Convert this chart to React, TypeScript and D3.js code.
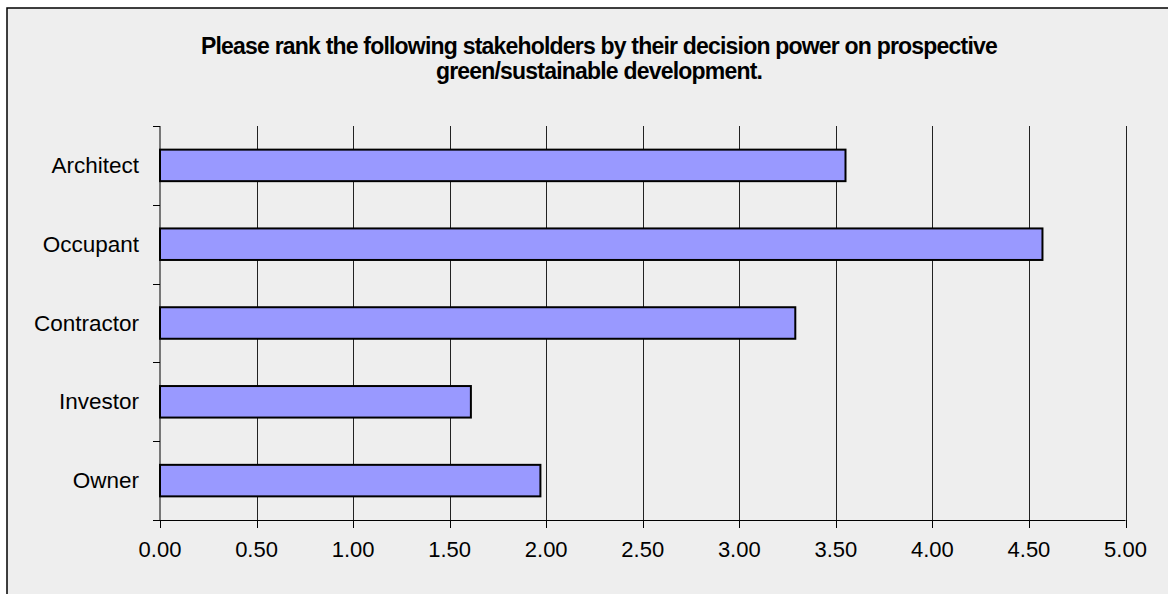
import React from "react";
import * as d3 from "d3";

const categories = ["Architect", "Occupant", "Contractor", "Investor", "Owner"];
const values = [3.55, 4.57, 3.29, 1.61, 1.97];
const xTicks = [0, 0.5, 1, 1.5, 2, 2.5, 3, 3.5, 4, 4.5, 5];
const titleLines = [
  "Please rank the following stakeholders by their decision power on prospective",
  "green/sustainable development.",
];

const W = 1168;
const H = 594;
const plot = { left: 160, right: 1125.5, top: 126, bottom: 520 };
const font = "'Liberation Sans', Arial, sans-serif";

export default function App() {
  const x = d3.scaleLinear().domain([0, 5]).range([plot.left, plot.right]);
  const y = d3
    .scaleBand<string>()
    .domain(categories)
    .range([plot.top, plot.bottom])
    .paddingInner(0.6)
    .paddingOuter(0.3);
  const step = y.step();
  const boundaries = d3.range(categories.length + 1).map((i) => plot.top + i * step);

  return (
    <svg
      width={W}
      height={H}
      style={{ position: "absolute", left: 0, top: 0, display: "block", background: "#fff" }}
    >
      <rect x={7} y={8} width={W + 10} height={H + 10} fill="#eeeeee" stroke="#000" strokeWidth={1.5} />
      {titleLines.map((t, i) => (
        <text
          key={i}
          x={599}
          y={54 + i * 25}
          textAnchor="middle"
          fontFamily={font}
          fontWeight="bold"
          fontSize={23}
          letterSpacing={-0.8}
          fill="#000"
        >
          {t}
        </text>
      ))}
      {/* vertical gridlines */}
      {xTicks.slice(1).map((v) => (
        <line
          key={"g" + v}
          x1={Math.round(x(v)) + 0.5}
          x2={Math.round(x(v)) + 0.5}
          y1={plot.top}
          y2={plot.bottom}
          stroke="#222"
          strokeWidth={1}
        />
      ))}
      {/* bars */}
      {categories.map((c, i) => (
        <rect
          key={c}
          x={x(0)}
          y={y(c)!}
          width={x(values[i]) - x(0)}
          height={y.bandwidth()}
          fill="#9999ff"
          stroke="#000"
          strokeWidth={2}
        />
      ))}
      {/* y axis */}
      <line x1={plot.left} x2={plot.left} y1={plot.top} y2={plot.bottom} stroke="#000" strokeWidth={1} />
      {boundaries.map((b, i) => (
        <line key={"yt" + i} x1={plot.left - 7} x2={plot.left} y1={Math.round(b) + 0.5} y2={Math.round(b) + 0.5} stroke="#000" strokeWidth={1} />
      ))}
      {categories.map((c) => (
        <text
          key={"l" + c}
          x={139}
          y={y(c)! + y.bandwidth() / 2 + 7.5}
          textAnchor="end"
          fontFamily={font}
          fontSize={22.5}
          fill="#000"
        >
          {c}
        </text>
      ))}
      {/* x axis */}
      <line x1={plot.left} x2={plot.right} y1={plot.bottom + 0.5} y2={plot.bottom + 0.5} stroke="#000" strokeWidth={1} />
      {xTicks.map((v) => (
        <g key={"xt" + v}>
          <line
            x1={Math.round(x(v)) + 0.5}
            x2={Math.round(x(v)) + 0.5}
            y1={plot.bottom}
            y2={plot.bottom + 8}
            stroke="#000"
            strokeWidth={1}
          />
          <text x={x(v)} y={557} textAnchor="middle" fontFamily={font} fontSize={22} fill="#000">
            {d3.format(".2f")(v)}
          </text>
        </g>
      ))}
    </svg>
  );
}
